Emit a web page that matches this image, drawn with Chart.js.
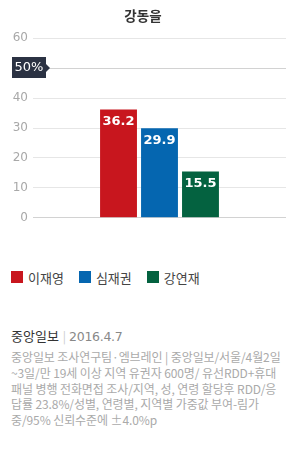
<!DOCTYPE html>
<html>
<head>
<meta charset="utf-8">
<script src="https://cdn.jsdelivr.net/npm/chart.js@4"></script>
<style>
  html, body { margin: 0; padding: 0; background: #fff; }
  body { width: 302px; height: 450px; position: relative; overflow: hidden; font-family: "Noto Sans CJK KR", sans-serif; }
  #wrap { position: absolute; left: 0; top: 0; width: 302px; height: 230px; }
  #legend { position: absolute; left: 11px; top: 267px; display: flex; align-items: center; font-size: 13px; color: #444; }
  #legend .item { display: flex; align-items: center; margin-right: 15px; height: 20px; }
  #legend .box { width: 12px; height: 12px; margin-right: 5px; }
  #src { position: absolute; left: 11px; top: 326px; font-size: 13px; color: #333; line-height: 20px; white-space: nowrap; }
  #src .sep { color: #ccc; margin: 0 3px 0 4px; font-size: 12px; }
  #src .date { color: #888; font-family: "DejaVu Sans", Verdana, sans-serif; font-size: 12.5px; letter-spacing: -0.3px; }
  #note { position: absolute; left: 11px; top: 349px; font-size: 12px; color: #aaa; line-height: 15.8px; white-space: nowrap; letter-spacing: -0.1px; }
</style>
</head>
<body>
<div id="wrap"><canvas id="c"></canvas></div>
<div id="legend"></div>
<div id="src">중앙일보<span class="sep">|</span><span class="date">2016.4.7</span></div>
<div id="note"></div>
<script>
const title = '강동을';
const categories = ['강동을'];
const seriesNames = ['이재영', '심재권', '강연재'];
const seriesColors = ['#c8161e', '#0566b0', '#046240'];
const values_이재영 = [36.2];
const values_심재권 = [29.9];
const values_강연재 = [15.5];
const seriesValues = [values_이재영, values_심재권, values_강연재];
const yTicks = [0, 10, 20, 30, 40, 50, 60];
const markerValue = 50;
const markerLabel = '50%';
const noteLines = [
  '중앙일보 조사연구팀·엠브레인 | 중앙일보/서울/4월2일',
  '~3일/만 19세 이상 지역 유권자 600명/ 유선RDD+휴대',
  '패널 병행 전화면접 조사/지역, 성, 연령 할당후 RDD/응',
  '답률 23.8%/성별, 연령별, 지역별 가중값 부여-림가',
  '중/95% 신뢰수준에 ±4.0%p'
];

document.getElementById('note').innerHTML = noteLines.join('<br>');
const lg = document.getElementById('legend');
seriesNames.forEach((n, i) => {
  const it = document.createElement('div'); it.className = 'item';
  const b = document.createElement('div'); b.className = 'box'; b.style.background = seriesColors[i];
  const t = document.createElement('span'); t.textContent = n;
  it.appendChild(b); it.appendChild(t); lg.appendChild(it);
});

const valueLabels = {
  id: 'valueLabels',
  afterDatasetsDraw(chart) {
    const ctx = chart.ctx;
    ctx.save();
    ctx.font = 'bold 13px "DejaVu Sans", Verdana, sans-serif';
    ctx.fillStyle = '#fff';
    ctx.textAlign = 'center';
    ctx.textBaseline = 'middle';
    chart.data.datasets.forEach((ds, di) => {
      chart.getDatasetMeta(di).data.forEach((el, i) => {
        ctx.fillText(ds.data[i].toFixed(1), el.x, el.y + 12);
      });
    });
    ctx.restore();
  }
};

const marker = {
  id: 'marker',
  afterDraw(chart) {
    const ctx = chart.ctx;
    const y = Math.round(chart.scales.y.getPixelForValue(markerValue));
    ctx.save();
    ctx.fillStyle = '#2b3243';
    ctx.fillRect(12, y - 11, 34, 21);
    ctx.beginPath();
    ctx.moveTo(46, y - 4); ctx.lineTo(50, y); ctx.lineTo(46, y + 4); ctx.closePath();
    ctx.fill();
    ctx.font = '13px "DejaVu Sans", Verdana, sans-serif';
    ctx.fillStyle = '#fff';
    ctx.textAlign = 'center';
    ctx.textBaseline = 'middle';
    ctx.fillText(markerLabel, 29, y);
    ctx.restore();
  }
};

new Chart(document.getElementById('c'), {
  type: 'bar',
  data: {
    labels: categories,
    datasets: seriesNames.map((n, i) => ({
      label: n,
      data: seriesValues[i],
      backgroundColor: seriesColors[i],
      borderWidth: 0,
      categoryPercentage: 0.486,
      barPercentage: 0.9
    }))
  },
  options: {
    responsive: true,
    maintainAspectRatio: false,
    animation: false,
    events: [],
    layout: { padding: { left: 0, right: 16, top: 0, bottom: 10 } },
    plugins: {
      legend: { display: false },
      tooltip: { enabled: false },
      title: {
        display: true,
        text: title,
        color: '#333',
        font: { family: '"Noto Sans CJK KR", sans-serif', size: 13.5, weight: 'bold' },
        padding: { top: 8, bottom: 14 }
      }
    },
    scales: {
      x: { display: false },
      y: {
        min: 0, max: 60,
        afterBuildTicks(scale) { scale.ticks = yTicks.map(v => ({ value: v })); },
        afterFit(scale) { scale.width = 33; },
        border: { display: false },
        grid: {
          drawTicks: false,
          color: ctx => (ctx.tick && (ctx.tick.value === 0 || ctx.tick.value === markerValue)) ? '#d2d2d2' : '#e6e6e6'
        },
        ticks: {
          padding: 5,
          color: '#a8a8a8',
          font: { family: '"DejaVu Sans", Verdana, sans-serif', size: 12 },
          callback: v => v === markerValue ? '' : String(v)
        }
      }
    }
  },
  plugins: [valueLabels, marker]
});
</script>
</body>
</html>
